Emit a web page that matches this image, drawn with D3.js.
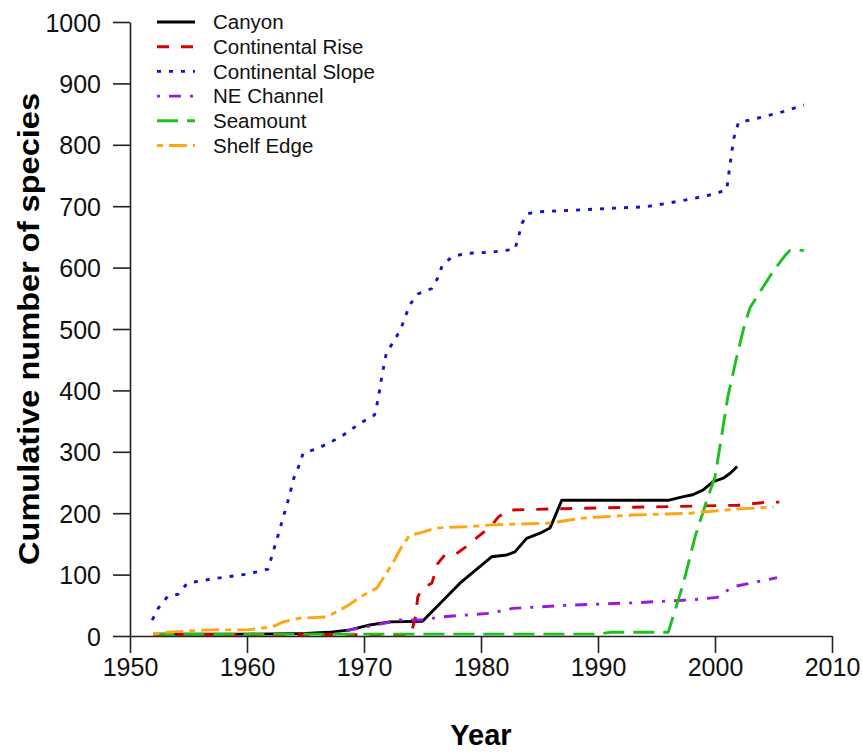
<!DOCTYPE html>
<html>
<head>
<meta charset="utf-8">
<script src="https://cdn.jsdelivr.net/npm/d3@7/dist/d3.min.js"></script>
<style>
  html, body { margin: 0; padding: 0; background: #fff; }
  svg { display: block; font-family: "Liberation Sans", Arial, sans-serif; }
</style>
</head>
<body>
<svg id="chart" width="862" height="753"></svg>
<script>
// ---- data ----
const seriesNames = ["Canyon", "Continental Rise", "Continental Slope", "NE Channel", "Seamount", "Shelf Edge"];

const canyonYears  = [1952, 1960, 1965, 1967, 1968.8, 1970.5, 1972.2, 1975, 1976.5, 1978.2, 1979.9, 1980.9, 1982.2, 1982.9, 1983.9, 1985, 1985.9, 1986.2, 1986.9, 1996, 1997.3, 1998.1, 1999, 1999.8, 2000.7, 2001.3, 2001.9];
const canyonValues = [3, 3, 4, 6, 10, 18, 23, 24, 53, 86, 113, 129, 132, 137, 159, 167, 176, 189, 221, 221, 227, 230, 238, 251, 257, 265, 276];

const riseYears  = [1952, 1974, 1974.4, 1974.6, 1975, 1975.8, 1976.3, 1976.9, 1977.9, 1978.9, 1979.7, 1980.8, 1981.5, 1982.3, 1986, 1994, 2002, 2004.4, 2005.5];
const riseValues = [2, 2, 31, 64, 78, 86, 118, 132, 134, 148, 161, 178, 194, 205, 207, 210, 213, 218, 218];

const slopeYears  = [1951.9, 1952.4, 1953.2, 1954.1, 1954.9, 1957, 1960.1, 1961.8, 1962.4, 1962.8, 1963.1, 1963.4, 1963.7, 1964, 1964.4, 1964.8, 1966, 1968, 1969.7, 1970.9, 1971.1, 1971.3, 1971.5, 1971.9, 1972.5, 1973.1, 1973.5, 1973.9, 1974.6, 1975.8, 1976.3, 1976.7, 1977.5, 1978.6, 1980.8, 1982.9, 1983.2, 1983.5, 1984, 1985, 1988.5, 1991.6, 1994, 1996, 1998, 2000, 2001, 2001.3, 2001.6, 2002, 2004, 2006, 2007.6];
const slopeValues = [26, 45, 64, 68, 86, 93, 101, 109, 148, 173, 194, 213, 234, 257, 275, 298, 305, 324, 347, 360, 376, 397, 420, 460, 479, 498, 518, 539, 557, 566, 583, 604, 617, 623, 625, 630, 650, 672, 688, 691, 694, 697, 699, 705, 712, 720, 727, 770, 810, 836, 845, 855, 865];

const neYears  = [1967.5, 1968.8, 1971, 1973.1, 1975, 1976.5, 1980.8, 1982.7, 1987.3, 1993, 1998.1, 2000.2, 2001.5, 2003, 2005.3];
const neValues = [3, 10, 18, 26, 26, 31, 37, 45, 50, 54, 59, 63, 80, 86, 95];

const seamountYears  = [1952, 1990, 1991, 1996, 1997.3, 1998.3, 1999.3, 2000, 2000.6, 2001.1, 2001.9, 2002.5, 2003, 2004, 2005, 2006, 2006.4, 2007.6];
const seamountValues = [3, 3, 6, 6, 86, 162, 221, 259, 330, 390, 458, 505, 535, 565, 595, 620, 628, 628];

const shelfYears  = [1952, 1953.2, 1956.6, 1960, 1961.4, 1962.2, 1963.1, 1964.5, 1966.8, 1968.5, 1969.9, 1971.1, 1971.9, 1972.5, 1973.2, 1973.9, 1974.8, 1976.2, 1978.8, 1981, 1985.9, 1988.7, 1993, 1997.9, 2000.2, 2002.1, 2005];
const shelfValues = [3, 6, 10, 10, 13, 15, 23, 29, 31, 48, 66, 78, 102, 120, 145, 164, 168, 176, 178, 181, 184, 192, 197, 200, 204, 207, 210];

const xTicks = [1950, 1960, 1970, 1980, 1990, 2000, 2010];
const yTicks = [0, 100, 200, 300, 400, 500, 600, 700, 800, 900, 1000];

// ---- styles ----
const colors = ["#000000", "#D40000", "#1414C4", "#9A1ADB", "#1EC01E", "#FFA512"];
const dashes = ["none", "12,12", "4,8", "3,9,12,9", "21,9", "6,6,18,6"];

const series = [
  [canyonYears, canyonValues],
  [riseYears, riseValues],
  [slopeYears, slopeValues],
  [neYears, neValues],
  [seamountYears, seamountValues],
  [shelfYears, shelfValues]
].map((s, i) => ({ name: seriesNames[i], points: s[0].map((yr, j) => [yr, s[1][j]]) }));

const svg = d3.select("#chart");
const plotLeft = 130, plotRight = 832, plotTop = 22, plotBottom = 636;

const x = d3.scaleLinear().domain([1950, 2010]).range([plotLeft, plotRight]);
const y = d3.scaleLinear().domain([0, 1000]).range([plotBottom, plotTop]);

// axes
const xAxis = d3.axisBottom(x).tickValues(xTicks).tickFormat(d3.format("d")).tickSizeInner(17).tickSizeOuter(0).tickPadding(5);
const yAxis = d3.axisLeft(y).tickValues(yTicks).tickFormat(d3.format("d")).tickSizeInner(17).tickSizeOuter(0).tickPadding(12);

const gx = svg.append("g").attr("transform", `translate(0,${plotBottom})`).call(xAxis);
const gy = svg.append("g").attr("transform", `translate(${plotLeft},0)`).call(yAxis);
[gx, gy].forEach(g => {
  g.selectAll("path, line").attr("stroke", "#222").attr("stroke-width", 1.6);
  g.selectAll("text").attr("fill", "#111").style("font-size", "25px");
});
gy.selectAll("text").attr("dy", "0.36em");

// lines
const line = d3.line().x(d => x(d[0])).y(d => y(d[1]));
svg.append("g").selectAll("path").data(series).join("path")
  .attr("d", d => line(d.points))
  .attr("fill", "none")
  .attr("stroke", (d, i) => colors[i])
  .attr("stroke-width", 2.9)
  .attr("stroke-dasharray", (d, i) => dashes[i])
  .attr("stroke-linejoin", "round");

// legend
const lg = svg.append("g");
const rowY = i => 22 + i * 24.7;
lg.selectAll("line").data(series).join("line")
  .attr("x1", 157).attr("x2", 195)
  .attr("y1", (d, i) => rowY(i)).attr("y2", (d, i) => rowY(i))
  .attr("stroke", (d, i) => colors[i])
  .attr("stroke-width", 2.9)
  .attr("stroke-dasharray", (d, i) => dashes[i]);
lg.selectAll("text").data(series).join("text")
  .attr("x", 213).attr("y", (d, i) => rowY(i))
  .attr("dy", "0.36em")
  .style("font-size", "20.5px")
  .attr("fill", "#111")
  .text(d => d.name);

// axis titles
svg.append("text")
  .attr("x", (plotLeft + plotRight) / 2).attr("y", 745)
  .attr("text-anchor", "middle")
  .style("font-size", "29px").style("font-weight", "bold")
  .attr("fill", "#000")
  .text("Year");
svg.append("text")
  .attr("transform", `translate(39,${(plotTop + plotBottom) / 2}) rotate(-90)`)
  .attr("text-anchor", "middle")
  .attr("textLength", 472)
  .attr("lengthAdjust", "spacingAndGlyphs")
  .style("font-size", "30px").style("font-weight", "bold")
  .attr("fill", "#000")
  .text("Cumulative number of species");
</script>
</body>
</html>
